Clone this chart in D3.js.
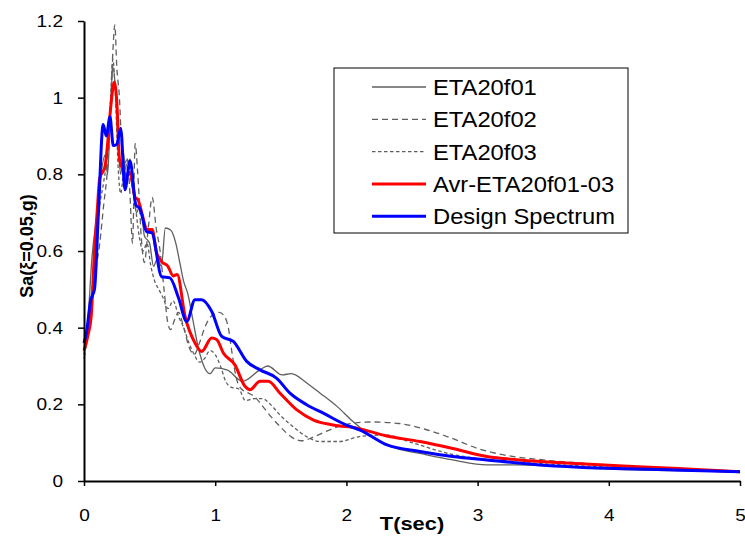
<!DOCTYPE html>
<html>
<head>
<meta charset="utf-8">
<script src="https://cdn.jsdelivr.net/npm/d3@7"></script>
<style>
  body { margin: 0; background: #fff; }
  text { font-family: Arial, "Liberation Sans", sans-serif; }
</style>
</head>
<body>
<div id="chart"></div>
<script>
(function() {
var WIDTH = 745;
var HEIGHT = 537;

// spectra as [T(sec), Sa(g)]
var eta01 = [[0,0.34],[0.03,0.42],[0.06,0.58],[0.1,0.7],[0.13,0.8],[0.16,0.85],[0.18,0.8],[0.2,0.95],
  [0.22,1.08],[0.24,1.02],[0.26,0.88],[0.28,0.8],[0.3,0.86],[0.32,0.78],[0.35,0.84],[0.38,0.74],
  [0.4,0.7],[0.43,0.72],[0.46,0.64],[0.5,0.62],[0.53,0.56],[0.56,0.58],[0.59,0.56],[0.62,0.66],
  [0.66,0.655],[0.7,0.62],[0.73,0.57],[0.76,0.52],[0.79,0.49],[0.83,0.42],[0.87,0.35],[0.92,0.295],
  [0.96,0.28],[1.0,0.295],[1.09,0.29],[1.21,0.26],[1.34,0.29],[1.4,0.3],[1.51,0.277],[1.58,0.28],
  [1.7,0.255],[1.8,0.229],[1.93,0.194],[2.05,0.155],[2.23,0.107],[2.38,0.085],[2.56,0.072],
  [2.81,0.055],[3.07,0.042],[3.3,0.042],[3.6,0.038],[4.0,0.031],[4.5,0.027],[5.0,0.024]];

var eta02 = [[0,0.32],[0.03,0.38],[0.06,0.46],[0.09,0.55],[0.12,0.62],[0.15,0.72],[0.18,0.82],
  [0.2,0.95],[0.22,1.12],[0.235,1.19],[0.25,1.08],[0.27,1.0],[0.29,0.85],[0.31,0.8],[0.33,0.84],
  [0.35,0.75],[0.37,0.62],[0.39,0.88],[0.41,0.8],[0.44,0.62],[0.46,0.57],[0.49,0.66],[0.52,0.74],
  [0.55,0.66],[0.58,0.6],[0.61,0.5],[0.64,0.41],[0.66,0.395],[0.69,0.42],[0.72,0.44],[0.76,0.4],
  [0.8,0.35],[0.84,0.33],[0.88,0.36],[0.92,0.4],[0.97,0.43],[1.03,0.44],[1.07,0.43],[1.1,0.4],
  [1.13,0.33],[1.16,0.27],[1.2,0.24],[1.25,0.23],[1.3,0.22],[1.35,0.2],[1.42,0.17],[1.5,0.14],
  [1.58,0.115],[1.66,0.105],[1.75,0.115],[1.85,0.13],[2.0,0.148],[2.2,0.154],[2.4,0.15],
  [2.6,0.135],[2.8,0.112],[3.0,0.085],[3.2,0.068],[3.5,0.055],[4.0,0.042],[4.5,0.033],[5.0,0.025]];

var eta03 = [[0,0.33],[0.03,0.4],[0.06,0.5],[0.09,0.62],[0.12,0.72],[0.15,0.78],[0.18,0.86],
  [0.2,0.98],[0.22,1.1],[0.24,1.0],[0.26,0.82],[0.28,0.75],[0.3,0.8],[0.33,0.84],[0.36,0.78],
  [0.39,0.72],[0.42,0.64],[0.45,0.6],[0.48,0.62],[0.51,0.56],[0.54,0.52],[0.57,0.5],[0.6,0.48],
  [0.64,0.45],[0.68,0.47],[0.72,0.43],[0.76,0.4],[0.8,0.36],[0.84,0.33],[0.88,0.31],[0.92,0.32],
  [0.96,0.34],[1.0,0.33],[1.04,0.3],[1.08,0.26],[1.12,0.245],[1.18,0.24],[1.23,0.21],[1.3,0.215],
  [1.36,0.215],[1.42,0.2],[1.5,0.17],[1.6,0.14],[1.7,0.115],[1.8,0.103],[1.95,0.103],[2.1,0.116],
  [2.3,0.12],[2.5,0.1],[2.8,0.07],[3.1,0.055],[3.5,0.045],[4.0,0.036],[4.5,0.03],[5.0,0.024]];

var average = [[0,0.34],[0.03,0.38],[0.055,0.43],[0.08,0.6],[0.1,0.7],[0.12,0.79],[0.16,0.82],
  [0.18,0.88],[0.205,0.98],[0.23,1.04],[0.25,0.99],[0.27,0.84],[0.3,0.81],[0.325,0.795],
  [0.35,0.805],[0.39,0.74],[0.41,0.735],[0.44,0.7],[0.48,0.656],[0.52,0.656],[0.55,0.6],
  [0.59,0.573],[0.64,0.56],[0.68,0.535],[0.71,0.539],[0.77,0.43],[0.846,0.36],[0.897,0.338],
  [0.973,0.373],[1.011,0.369],[1.062,0.334],[1.15,0.303],[1.227,0.247],[1.265,0.238],
  [1.341,0.26],[1.405,0.26],[1.494,0.229],[1.62,0.186],[1.75,0.159],[1.9,0.146],[2.08,0.138],
  [2.3,0.118],[2.56,0.103],[2.81,0.085],[3.07,0.064],[3.32,0.055],[3.71,0.046],[4.22,0.037],
  [4.49,0.033],[5.0,0.024]];

var design = [[0,0.36],[0.02,0.39],[0.05,0.47],[0.08,0.5],[0.11,0.7],[0.146,0.93],[0.17,0.9],
  [0.198,0.95],[0.223,0.875],[0.249,0.878],[0.28,0.92],[0.312,0.76],[0.351,0.835],[0.396,0.72],
  [0.427,0.71],[0.478,0.65],[0.516,0.648],[0.592,0.533],[0.655,0.53],[0.72,0.478],[0.783,0.416],
  [0.846,0.473],[0.897,0.473],[0.973,0.443],[1.05,0.377],[1.138,0.364],[1.24,0.312],[1.341,0.29],
  [1.469,0.268],[1.57,0.229],[1.697,0.199],[1.824,0.177],[2.0,0.146],[2.104,0.133],[2.31,0.094],
  [2.56,0.077],[2.81,0.064],[3.07,0.055],[3.48,0.042],[4.0,0.033],[4.49,0.029],[5.0,0.024]];

var seriesNames = ['ETA20f01', 'ETA20f02', 'ETA20f03', 'Avr-ETA20f01-03', 'Design Spectrum'];
var xTicks = [0, 1, 2, 3, 4, 5];
var yTicks = [0, 0.2, 0.4, 0.6, 0.8, 1, 1.2];

var styles = [
  { color: '#5f5f5f', width: 1.3, dash: null },
  { color: '#5f5f5f', width: 1.3, dash: '6,4' },
  { color: '#5f5f5f', width: 1.3, dash: '3.5,2.5' },
  { color: '#ff0000', width: 3, dash: null },
  { color: '#0000ff', width: 3, dash: null }
];
var data = [eta01, eta02, eta03, average, design];

var svg = d3.select('#chart').append('svg')
  .attr('width', WIDTH)
  .attr('height', HEIGHT);

var x = d3.scaleLinear().domain([0, 5]).range([84, 740]);
var y = d3.scaleLinear().domain([0, 1.2]).range([481, 21]);

var line = d3.line()
  .x(function(d) { return x(d[0]); })
  .y(function(d) { return y(d[1]); })
  .curve(d3.curveMonotoneX);

svg.selectAll('path.series')
  .data(data)
  .enter().append('path')
  .attr('class', 'series')
  .attr('d', line)
  .attr('fill', 'none')
  .attr('stroke', function(d, i) { return styles[i].color; })
  .attr('stroke-width', function(d, i) { return styles[i].width; })
  .attr('stroke-dasharray', function(d, i) { return styles[i].dash; })
  .attr('stroke-linejoin', 'round');

// axes
var xAxis = svg.append('g')
  .attr('transform', 'translate(0,481)')
  .call(d3.axisBottom(x).tickValues(xTicks).tickSize(5).tickSizeOuter(0).tickPadding(23)
    .tickFormat(d3.format('d')));
var yAxis = svg.append('g')
  .attr('transform', 'translate(84,0)')
  .call(d3.axisLeft(y).tickValues(yTicks).tickSize(6).tickSizeOuter(0).tickPadding(15)
    .tickFormat(function(d) { return d === 0 || d === 1 ? d : d3.format('.1f')(d); }));

[xAxis, yAxis].forEach(function(a) {
  a.select('.domain').attr('stroke', '#000').attr('stroke-width', 2);
  a.selectAll('.tick line').attr('stroke', '#000').attr('stroke-width', 1.5);
  a.selectAll('.tick text')
    .attr('font-family', 'Arial, "Liberation Sans", sans-serif')
    .attr('font-size', 17)
    .attr('fill', '#000');
});
xAxis.selectAll('.tick text').attr('transform', 'scale(1.12,1)');
yAxis.selectAll('.tick text').attr('x', -21 / 1.12).attr('transform', 'scale(1.12,1)');

// axis titles
svg.append('text')
  .attr('transform', 'translate(412,530) scale(1.15,1)')
  .attr('text-anchor', 'middle')
  .attr('font-size', 19)
  .attr('font-weight', 'bold')
  .text('T(sec)');

svg.append('text')
  .attr('transform', 'translate(33,246) rotate(-90)')
  .attr('text-anchor', 'middle')
  .attr('font-size', 18)
  .attr('font-weight', 'bold')
  .text('Sa(ξ=0.05,g)');

// legend
var legend = svg.append('g').attr('transform', 'translate(334,68)');
legend.append('rect')
  .attr('x', 0).attr('y', 0)
  .attr('width', 294).attr('height', 165)
  .attr('fill', '#fff')
  .attr('stroke', '#000')
  .attr('stroke-width', 1);

var item = legend.selectAll('g.item')
  .data(seriesNames)
  .enter().append('g')
  .attr('class', 'item')
  .attr('transform', function(d, i) { return 'translate(0,' + (19 + i * 32.3) + ')'; });

item.append('line')
  .attr('x1', 38).attr('x2', 92)
  .attr('y1', 0).attr('y2', 0)
  .attr('stroke', function(d, i) { return styles[i].color; })
  .attr('stroke-width', function(d, i) { return styles[i].width; })
  .attr('stroke-dasharray', function(d, i) { return styles[i].dash; });

item.append('text')
  .attr('transform', 'translate(99,8) scale(1.08,1)')
  .attr('font-size', 22)
  .attr('fill', '#000')
  .text(function(d) { return d; });
})();
</script>
</body>
</html>
